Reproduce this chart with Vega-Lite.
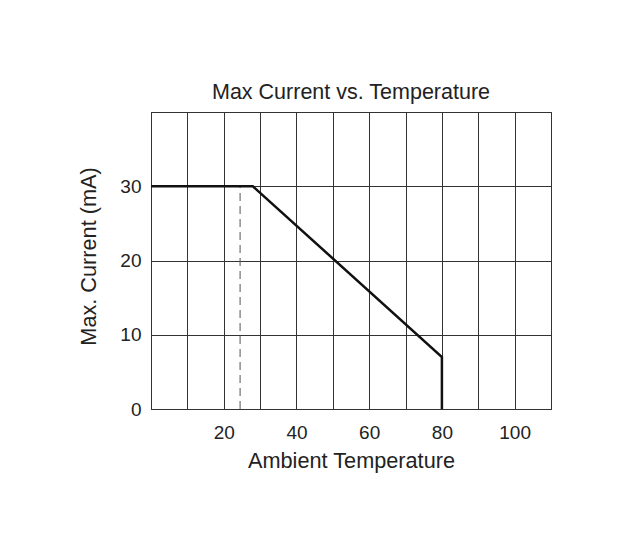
{
  "$schema": "https://vega.github.io/schema/vega-lite/v6.json",
  "autosize": "none",
  "width": 400,
  "height": 297,
  "padding": {"left": 151, "top": 112, "right": 91, "bottom": 143},
  "background": "white",
  "config": {
    "font": "Liberation Sans",
    "view": {"stroke": "#222", "strokeWidth": 1},
    "axis": {"labelFont": "Liberation Sans", "titleFont": "Liberation Sans", "labelColor": "#222", "titleColor": "#222", "titleFontWeight": "normal", "domain": false, "ticks": false, "tickSize": 0, "gridColor": "#333", "gridOpacity": 1, "gridWidth": 1}
  },
  "title": {"text": "Max Current vs. Temperature", "fontSize": 21.5, "fontWeight": "normal", "color": "#222", "font": "Liberation Sans", "baseline": "alphabetic", "offset": -17, "anchor": "middle", "frame": "group"},
  "datasets": {
    "curve": [
      {"order": 1, "temp": 0, "current": 30},
      {"order": 2, "temp": 28, "current": 30},
      {"order": 3, "temp": 80, "current": 7},
      {"order": 4, "temp": 80, "current": 0}
    ],
    "marker": [
      {"order": 1, "temp": 24.5, "current": 0},
      {"order": 2, "temp": 24.5, "current": 30}
    ]
  },
  "encoding": {
    "x": {"field": "temp", "type": "quantitative", "scale": {"domain": [0, 110], "nice": false},
      "axis": {"title": "Ambient Temperature", "values": [0, 10, 20, 30, 40, 50, 60, 70, 80, 90, 100, 110], "labelExpr": "datum.value % 20 == 0 && datum.value > 0 && datum.value < 110 ? datum.label : ''", "labelFontSize": 19, "labelBaseline": "alphabetic", "labelPadding": 29, "labelOverlap": false, "titleFontSize": 21.7, "titleBaseline": "alphabetic", "titleY": 58}},
    "y": {"field": "current", "type": "quantitative", "scale": {"domain": [0, 40], "nice": false},
      "axis": {"title": "Max. Current (mA)", "values": [0, 10, 20, 30, 40], "labelExpr": "datum.value < 40 ? datum.label : ''", "labelFontSize": 19, "labelBaseline": "middle", "labelPadding": 10, "labelOverlap": false, "titleFontSize": 21.7, "titleBaseline": "alphabetic", "titleX": -56, "titleY": 144}},
    "order": {"field": "order", "type": "quantitative"}
  },
  "layer": [
    {
      "data": {"name": "marker"},
      "mark": {"type": "line", "color": "#555", "strokeWidth": 1, "strokeDash": [8, 5]}
    },
    {
      "data": {"name": "curve"},
      "mark": {"type": "line", "color": "#111", "strokeWidth": 2.5, "strokeJoin": "miter"}
    }
  ]
}
